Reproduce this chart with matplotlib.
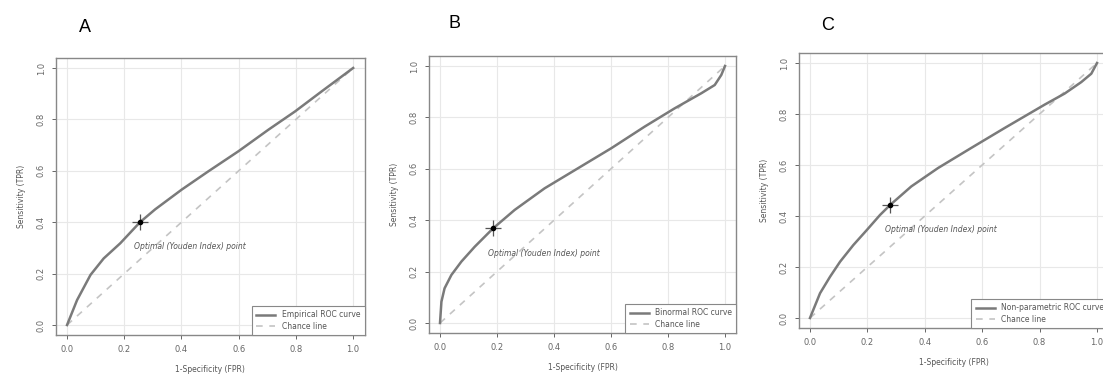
import numpy as np
import matplotlib
matplotlib.use("Agg")
import matplotlib.pyplot as plt

# ====================================================================
# DADOS
# ====================================================================

# Painel A - curva ROC empírica
fpr_a = [0.0, 0.035, 0.082, 0.128, 0.186, 0.255, 0.308, 0.401, 0.494, 0.599, 0.704, 0.797, 0.89, 1.0]
tpr_a = [0.0, 0.097, 0.195, 0.259, 0.318, 0.40, 0.45, 0.527, 0.598, 0.676, 0.76, 0.831, 0.909, 1.0]
otimo_a = (0.255, 0.40)

# Painel B - curva ROC binormal
fpr_b = [0.0, 0.005, 0.016, 0.04, 0.075, 0.122, 0.186, 0.262, 0.367, 0.484, 0.601, 0.718, 0.823, 0.917, 0.964, 0.987, 1.0]
tpr_b = [0.0, 0.083, 0.135, 0.187, 0.239, 0.297, 0.368, 0.44, 0.524, 0.602, 0.68, 0.764, 0.835, 0.894, 0.926, 0.965, 1.0]
otimo_b = (0.186, 0.368)

# Painel C - curva ROC não paramétrica
fpr_c = [0.0, 0.035, 0.07, 0.105, 0.151, 0.198, 0.244, 0.279, 0.353, 0.446, 0.562, 0.678, 0.818, 0.887, 0.945, 0.98, 1.0]
tpr_c = [0.0, 0.097, 0.162, 0.221, 0.286, 0.345, 0.404, 0.443, 0.516, 0.588, 0.667, 0.745, 0.837, 0.88, 0.925, 0.958, 1.0]
otimo_c = (0.279, 0.443)

legendas = ["Empirical ROC curve", "Binormal ROC curve", "Non-parametric ROC curve"]
letras = ["A", "B", "C"]
ticks = [0.0, 0.2, 0.4, 0.6, 0.8, 1.0]

# posições dos eixos em pixels (esquerda, topo, largura, altura) e rótulo do ponto ótimo
W, H = 1103, 381
paineis = [
    dict(fpr=fpr_a, tpr=tpr_a, ot=otimo_a, box=(55.6, 57.7, 309, 277.6), lbl=(0.235, 0.305), let=(85, 28)),
    dict(fpr=fpr_b, tpr=tpr_b, ot=otimo_b, box=(428.6, 55.7, 307.8, 277.6), lbl=(0.17, 0.27), let=(455, 23)),
    dict(fpr=fpr_c, tpr=tpr_c, ot=otimo_c, box=(798.5, 52.8, 310, 275.4), lbl=(0.26, 0.346), let=(828, 25)),
]

fig = plt.figure(figsize=(W / 100, H / 100), dpi=100)

for i, p in enumerate(paineis):
    l, t, w, h = p["box"]
    ax = fig.add_axes([l / W, 1 - (t + h) / H, w / W, h / H])
    ax.set_xlim(-0.04, 1.04)
    ax.set_ylim(-0.04, 1.04)
    ax.set_xticks(ticks)
    ax.set_yticks(ticks)
    ax.set_xticklabels([f"{v:.1f}" for v in ticks])
    ax.set_yticklabels([f"{v:.1f}" for v in ticks], rotation=90, va="center")
    ax.grid(True, color="#e8e8e8", linewidth=0.8)
    ax.set_axisbelow(True)
    for s in ax.spines.values():
        s.set_color("#888888")
        s.set_linewidth(1.0)
    ax.tick_params(labelsize=6, colors="#666666", length=3, width=0.7, pad=4)

    ax.plot([0, 1], [0, 1], linestyle=(0, (4, 4)), color="#c4c4c4", linewidth=1.2, label="Chance line")
    ax.plot(p["fpr"], p["tpr"], color="#7a7a7a", linewidth=1.8, label=legendas[i])
    # reordena legenda: curva primeiro
    h_, l_ = ax.get_legend_handles_labels()

    ox, oy = p["ot"]
    ax.plot(ox, oy, marker="+", markersize=11, color="#555555", markeredgewidth=0.9)
    ax.plot(ox, oy, marker="o", markersize=3, color="black")
    ax.text(p["lbl"][0], p["lbl"][1], "Optimal (Youden Index) point", fontsize=5.5,
            style="italic", color="#555555", va="center")

    ax.set_xlabel("1-Specificity (FPR)", fontsize=5.5, color="#555555", labelpad=8)
    ax.set_ylabel("Sensitivity (TPR)", fontsize=5.5, color="#555555", labelpad=8)

    leg = ax.legend([h_[1], h_[0]], [l_[1], l_[0]], loc="lower right", fontsize=5.5,
                    fancybox=False, framealpha=1, edgecolor="#888888", borderaxespad=0,
                    handlelength=2.5, borderpad=0.6, labelspacing=0.3)
    leg.get_frame().set_linewidth(0.8)
    for txt in leg.get_texts():
        txt.set_color("#555555")

    fig.text(p["let"][0] / W, 1 - p["let"][1] / H, letras[i], fontsize=13,
             family="Liberation Sans", ha="center", va="center")

fig.savefig("out.png", dpi=100)
